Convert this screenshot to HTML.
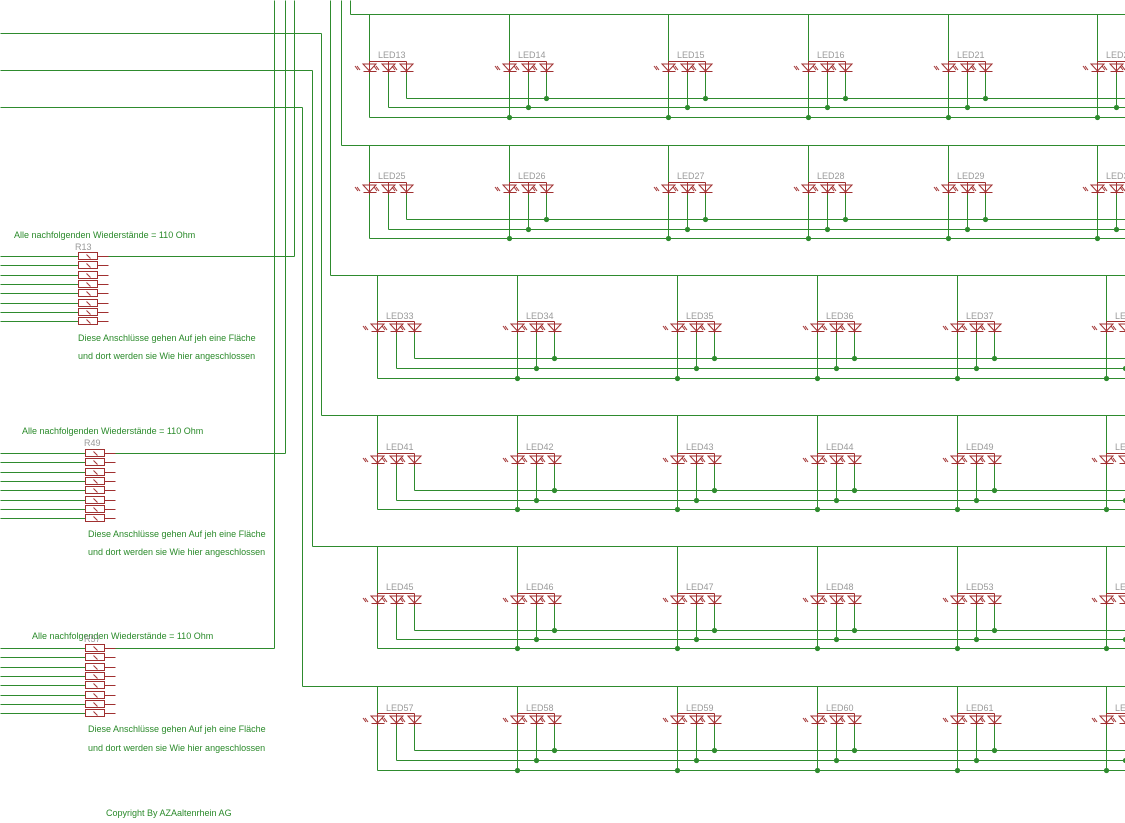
<!DOCTYPE html>
<html><head><meta charset="utf-8"><style>
html,body{margin:0;padding:0;background:#fff;}
svg{display:block}
text{font-family:"Liberation Sans",sans-serif;}
.g{fill:#2a8a2a;font-size:9px}
.l{fill:#999;font-size:9px}
.r{fill:#8a2a2a;font-size:7px}
</style></head><body>
<svg id="s" width="1125" height="823" viewBox="0 0 1125 823" xmlns="http://www.w3.org/2000/svg">
<g id="w" stroke="#2e8b2e" stroke-width="1" fill="none"></g>
<g id="red" stroke="#a03030" stroke-width="1" fill="none"></g>
<g id="dots" fill="#2e8b2e"></g>
<text class="g" x="14" y="238">Alle nachfolgenden Wiederstände = 110 Ohm</text>
<text class="g" x="22" y="434">Alle nachfolgenden Wiederstände = 110 Ohm</text>
<text class="g" x="32" y="639">Alle nachfolgenden Wiederstände = 110 Ohm</text>
<text class="g" x="78" y="341">Diese Anschlüsse gehen Auf jeh eine Fläche</text>
<text class="g" x="78" y="359">und dort werden sie Wie hier angeschlossen</text>
<text class="g" x="88" y="537">Diese Anschlüsse gehen Auf jeh eine Fläche</text>
<text class="g" x="88" y="555">und dort werden sie Wie hier angeschlossen</text>
<text class="g" x="88" y="732">Diese Anschlüsse gehen Auf jeh eine Fläche</text>
<text class="g" x="88" y="751">und dort werden sie Wie hier angeschlossen</text>
<text class="g" x="106" y="816">Copyright By AZAaltenrhein AG</text>
<text class="l" x="75" y="250">R13</text>
<text class="l" x="84" y="446">R49</text>
<text class="l" x="84" y="642">R57</text>

<text class="l" x="378" y="58">LED13</text><text class="l" x="518" y="58">LED14</text><text class="l" x="677" y="58">LED15</text><text class="l" x="817" y="58">LED16</text><text class="l" x="957" y="58">LED21</text><text class="l" x="1106" y="58">LED2</text>
<text class="l" x="378" y="179">LED25</text><text class="l" x="518" y="179">LED26</text><text class="l" x="677" y="179">LED27</text><text class="l" x="817" y="179">LED28</text><text class="l" x="957" y="179">LED29</text><text class="l" x="1106" y="179">LED3</text>
<text class="l" x="386" y="319">LED33</text><text class="l" x="526" y="319">LED34</text><text class="l" x="686" y="319">LED35</text><text class="l" x="826" y="319">LED36</text><text class="l" x="966" y="319">LED37</text><text class="l" x="1115" y="319">LE</text>
<text class="l" x="386" y="450">LED41</text><text class="l" x="526" y="450">LED42</text><text class="l" x="686" y="450">LED43</text><text class="l" x="826" y="450">LED44</text><text class="l" x="966" y="450">LED49</text><text class="l" x="1115" y="450">LE</text>
<text class="l" x="386" y="590">LED45</text><text class="l" x="526" y="590">LED46</text><text class="l" x="686" y="590">LED47</text><text class="l" x="826" y="590">LED48</text><text class="l" x="966" y="590">LED53</text><text class="l" x="1115" y="590">LE</text>
<text class="l" x="386" y="711">LED57</text><text class="l" x="526" y="711">LED58</text><text class="l" x="686" y="711">LED59</text><text class="l" x="826" y="711">LED60</text><text class="l" x="966" y="711">LED61</text><text class="l" x="1115" y="711">LE</text>
</svg>
<script>
var W=document.getElementById('w'),R=document.getElementById('red'),D=document.getElementById('dots');
var NS='http://www.w3.org/2000/svg';
function ln(g,x1,y1,x2,y2){var e=document.createElementNS(NS,'line');e.setAttribute('x1',x1+.5);e.setAttribute('y1',y1+.5);e.setAttribute('x2',x2+.5);e.setAttribute('y2',y2+.5);g.appendChild(e);}
function pth(g,d){var e=document.createElementNS(NS,'path');e.setAttribute('d',d);g.appendChild(e);}
function dot(x,y){var e=document.createElementNS(NS,'circle');e.setAttribute('cx',x+.5);e.setAttribute('cy',y+.5);e.setAttribute('r',2.6);D.appendChild(e);}
// left bus verticals and feeders
ln(W,274,0,274,648);ln(W,285,0,285,453);ln(W,294,0,294,256);
ln(W,0,33,321,33);ln(W,0,70,312,70);ln(W,0,107,302,107);
ln(W,321,33,321,415);ln(W,312,70,312,546);ln(W,302,107,302,686);
ln(W,330,0,330,275);ln(W,341,0,341,145);ln(W,350,0,350,14);
ln(W,97,256,294,256);ln(W,106,453,285,453);ln(W,106,648,274,648);
var rows=[[14,67,98,107,117,[369,509,668,808,948,1097],350],
[145,188,219,229,238,[369,509,668,808,948,1097],341],
[275,327,358,368,378,[377,517,677,817,957,1106],330],
[415,459,490,500,509,[377,517,677,817,957,1106],321],
[546,599,630,639,648,[377,517,677,817,957,1106],312],
[686,719,750,760,770,[377,517,677,817,957,1106],302]];
rows.forEach(function(r){
 var top=r[0],ly=r[1],xs=r[5];
 ln(W,r[6],top,1125,top);
 xs.forEach(function(x,i){
  ln(W,x,top,x,ly-6);ln(W,x,ly+6,x,r[4]);
  ln(W,x+19,ly+6,x+19,r[3]);ln(W,x+37,ly+6,x+37,r[2]);
  if(i==0){ln(W,x,r[4],1125,r[4]);ln(W,x+19,r[3],1125,r[3]);ln(W,x+37,r[2],1125,r[2]);}
  else{dot(x,r[4]);dot(x+19,r[3]);dot(x+37,r[2]);}
  // LEDs
  ln(R,x,ly-6,x+37,ly-6);
  [0,19,37].forEach(function(o){var c=x+o;
   pth(R,'M'+(c-6)+' '+(ly-3)+'L'+(c+7)+' '+(ly-3)+'L'+(c+.5)+' '+(ly+4)+'Z');
   ln(R,c-6,ly+4,c+7,ly+4);ln(R,c,ly-6,c,ly+6);
   pth(R,'M'+(c-9)+' '+(ly+3)+'l-3 -4M'+(c-11)+' '+(ly+3)+'l-3 -4');
  });
 });
});
// resistors
[[78,256,0],[85,453,0],[85,648,0]].forEach(function(b){
 for(var i=0;i<8;i++){var y=b[1]+i*9.3;y=Math.round(y);
  ln(W,0,y,b[0],y);
  var e=document.createElementNS(NS,'rect');e.setAttribute('x',b[0]+.5);e.setAttribute('y',y-3.5);e.setAttribute('width',19);e.setAttribute('height',7);R.appendChild(e);
  ln(R,b[0]+19,y,b[0]+30,y);ln(R,b[0]+8,y-2,b[0]+12,y+2);
 }
});
</script>
</body></html>
